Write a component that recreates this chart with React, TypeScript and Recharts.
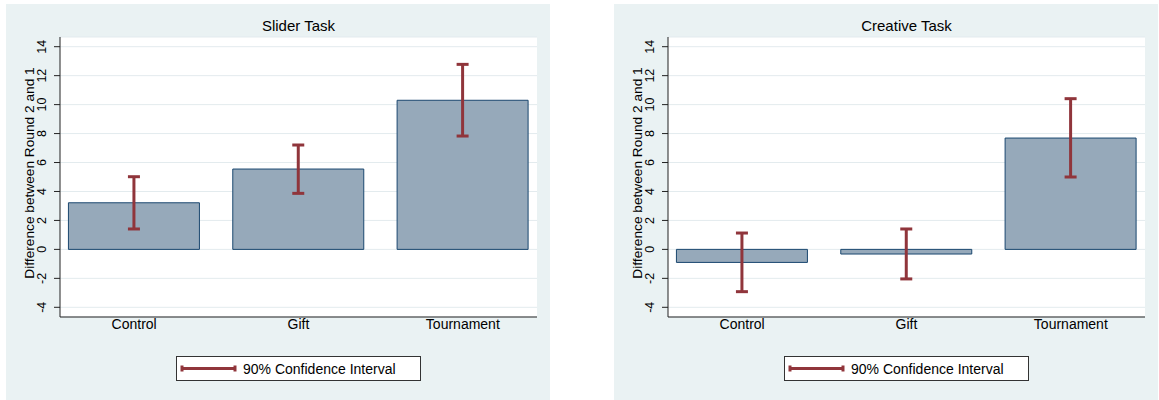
import React from 'react'
import {
    BarChart,
    Bar,
    XAxis,
    YAxis,
    CartesianGrid,
    ErrorBar,
} from 'recharts';

const categories = ['Control', 'Gift', 'Tournament'];

const sliderMeans = [3.22, 5.55, 10.3];
const sliderLow = [1.41, 3.87, 7.83];
const sliderHigh = [5.02, 7.21, 12.78];

const creativeMeans = [-0.9, -0.32, 7.69];
const creativeLow = [-2.92, -2.04, 5.0];
const creativeHigh = [1.13, 1.41, 10.41];

const yTicks = [-4, -2, 0, 2, 4, 6, 8, 10, 12, 14];

const FONT = '"Liberation Sans", Arial, sans-serif';
const BG = '#eaf2f3';
const BAR_FILL = '#96a9ba';
const BAR_STROKE = '#1a476f';
const CI_COLOR = '#90353b';

function RotTick(props: any) {
    const { x, y, payload } = props;
    return (
        <text
            x={x}
            y={y}
            transform={`rotate(-90 ${x} ${y})`}
            textAnchor="middle"
            fontSize={12.5}
            fill="#000"
            fontFamily={FONT}
        >
            {payload.value}
        </text>
    );
}

function YLabel(props: any) {
    const { viewBox } = props;
    const x = viewBox.x + 4;
    const y = viewBox.y + viewBox.height / 2 - 4;
    return (
        <text
            x={x}
            y={y}
            transform={`rotate(-90 ${x} ${y})`}
            textAnchor="middle"
            fontSize={13.7}
            fill="#000"
            fontFamily={FONT}
        >
            Difference between Round 2 and 1
        </text>
    );
}

function Panel({ title, means, lows, highs, left }: any) {
    const data = categories.map((name, i) => ({
        name,
        value: means[i],
        err: [means[i] - lows[i], highs[i] - means[i]],
    }));

    return (
        <div style={{ position: 'absolute', left, top: 4, width: 544, height: 396, background: BG, fontFamily: FONT }}>
            <div style={{ position: 'absolute', left: 54, top: 14, width: 477, textAlign: 'center', fontSize: 15, lineHeight: '15px', color: '#000' }}>
                {title}
            </div>
            <BarChart
                width={544}
                height={396}
                data={data}
                margin={{ top: 33, right: 13, bottom: 63, left: 24 }}
                barCategoryGap="10%"
            >
                <CartesianGrid vertical={false} fill="#ffffff" stroke="#e3ebee" strokeWidth={1} />
                <XAxis
                    dataKey="name"
                    interval={0}
                    height={20}
                    tickLine={false}
                    tickSize={0}
                    tickMargin={2}
                    padding={{ left: -8, right: -8 }}
                    axisLine={{ stroke: '#222' }}
                    tick={{ fill: '#000', fontSize: 14, fontFamily: FONT }}
                />
                <YAxis
                    type="number"
                    domain={[-4.67, 14.67]}
                    ticks={yTicks}
                    width={30}
                    tickSize={6}
                    tickMargin={8}
                    axisLine={{ stroke: '#222' }}
                    tickLine={{ stroke: '#222' }}
                    tick={<RotTick />}
                    label={<YLabel />}
                />
                <Bar dataKey="value" fill={BAR_FILL} stroke={BAR_STROKE} strokeWidth={1} isAnimationActive={false}>
                    <ErrorBar dataKey="err" stroke={CI_COLOR} strokeWidth={3} width={6} isAnimationActive={false} />
                </Bar>
            </BarChart>
            <div style={{
                position: 'absolute', left: 170, top: 352, width: 245, height: 25, boxSizing: 'border-box',
                border: '1px solid #333', background: '#fff', display: 'flex', alignItems: 'center',
            }}>
                <svg width={60} height={23} style={{ marginLeft: 1 }}>
                    <line x1={4} y1={11.5} x2={57} y2={11.5} stroke={CI_COLOR} strokeWidth={3} />
                    <line x1={4} y1={8.5} x2={4} y2={14.5} stroke={CI_COLOR} strokeWidth={3} />
                    <line x1={57} y1={8.5} x2={57} y2={14.5} stroke={CI_COLOR} strokeWidth={3} />
                </svg>
                <span style={{ marginLeft: 5, fontSize: 14, color: '#000' }}>90% Confidence Interval</span>
            </div>
        </div>
    );
}

function App() {
    return (
        <div style={{ position: 'absolute', left: 0, top: 0, width: 1159, height: 400, background: '#fff' }}>
            <Panel title="Slider Task" means={sliderMeans} lows={sliderLow} highs={sliderHigh} left={6} />
            <Panel title="Creative Task" means={creativeMeans} lows={creativeLow} highs={creativeHigh} left={614} />
        </div>
    )
}

export default App
